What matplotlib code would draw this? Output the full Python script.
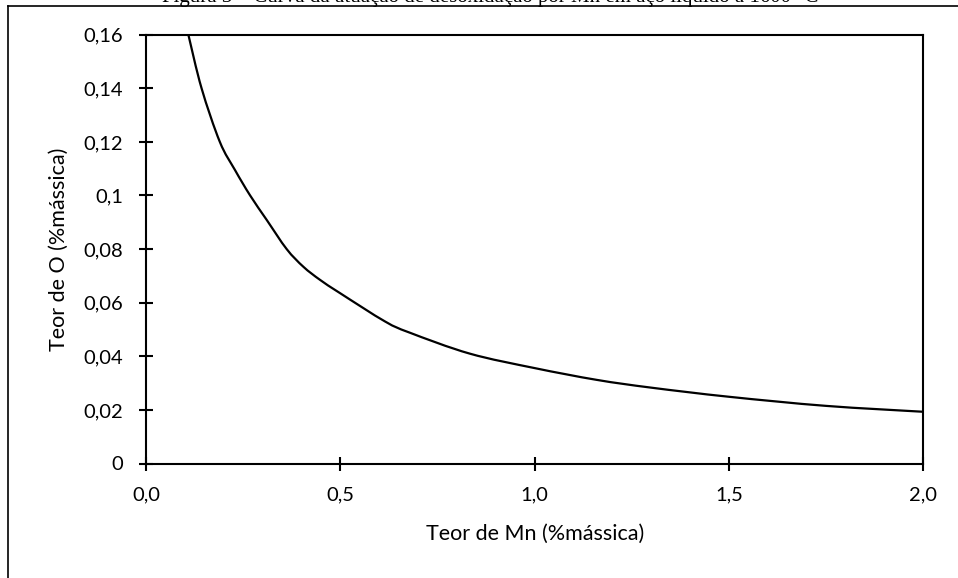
import matplotlib
matplotlib.use("Agg")
import matplotlib.pyplot as plt
from matplotlib.lines import Line2D
from matplotlib.path import Path
from matplotlib.patches import PathPatch

# Data
mn_content = [0.109, 0.143, 0.19, 0.229, 0.268, 0.311, 0.362, 0.405, 0.448, 0.5,
              0.615, 0.679, 0.833, 1.0, 1.16, 1.3, 1.5, 1.75, 2.0]
o_content = [0.16, 0.14, 0.12, 0.1095, 0.10, 0.0908, 0.08, 0.0734, 0.0685, 0.0635,
             0.0530, 0.0488, 0.0410, 0.0356, 0.0312, 0.0283, 0.0249, 0.0215, 0.0193]

x_ticks = [0.0, 0.5, 1.0, 1.5, 2.0]
x_tick_labels = ["0,0", "0,5", "1,0", "1,5", "2,0"]
y_ticks = [0, 0.02, 0.04, 0.06, 0.08, 0.10, 0.12, 0.14, 0.16]
y_tick_labels = ["0", "0,02", "0,04", "0,06", "0,08", "0,1", "0,12", "0,14", "0,16"]

x_label = "Teor de Mn (%mássica)"
y_label = "Teor de O (%mássica)"
caption = "Figura 3 – Curva da atuação de desoxidação por Mn em aço líquido a 1600 °C"

plt.rcParams['font.family'] = ['Lato', 'DejaVu Sans']

W, H = 958, 578
fig = plt.figure(figsize=(W / 100, H / 100), dpi=100)

ax = fig.add_axes([146 / W, 1 - 463.5 / H, (923.3 - 146) / W, (463.5 - 34.7) / H])

# Smoothed line (Catmull-Rom as cubic Bezier, like a spreadsheet "smoothed line")
pts = list(zip(mn_content, o_content))
verts = [pts[0]]
codes = [Path.MOVETO]
n = len(pts)
for i in range(n - 1):
    p0 = pts[i - 1] if i > 0 else pts[i]
    p1 = pts[i]
    p2 = pts[i + 1]
    p3 = pts[i + 2] if i + 2 < n else pts[i + 1]
    c1 = (p1[0] + (p2[0] - p0[0]) / 6, p1[1] + (p2[1] - p0[1]) / 6)
    c2 = (p2[0] - (p3[0] - p1[0]) / 6, p2[1] - (p3[1] - p1[1]) / 6)
    verts += [c1, c2, p2]
    codes += [Path.CURVE4] * 3
curve = PathPatch(Path(verts, codes), facecolor="none", edgecolor="black", lw=1.6,
                  transform=ax.transData, capstyle="butt", joinstyle="round")
ax.add_patch(curve)

ax.set_xlim(0, 2.0)
ax.set_ylim(0, 0.16)
ax.set_xticks(x_ticks)
ax.set_xticklabels(x_tick_labels)
ax.set_yticks(y_ticks)
ax.set_yticklabels(y_tick_labels)

for s in ax.spines.values():
    s.set_linewidth(1.5)
    s.set_color("black")

ax.tick_params(axis="both", direction="inout", length=10.5, width=1.5,
               labelsize=14.5, colors="black")
ax.tick_params(axis="x", pad=11)
ax.tick_params(axis="y", pad=11)

ax.set_xlabel(x_label, fontsize=15.5, labelpad=15)
ax.set_ylabel(y_label, fontsize=15.5, labelpad=11)

# Outer frame (left and top borders of the document box)
fig.add_artist(Line2D([7.5 / W, 7.5 / W], [0, 1 - 5.5 / H], transform=fig.transFigure,
                      color="black", lw=1.2))
fig.add_artist(Line2D([7.5 / W, 1.0], [1 - 5.5 / H, 1 - 5.5 / H], transform=fig.transFigure,
                      color="black", lw=1.2))

# Caption mostly cut off at the top, as in the reference
fig.text(490 / W, 1 - 2.0 / H, caption, ha="center", va="baseline",
         fontsize=15, family=["Liberation Serif", "DejaVu Serif"], color="black")

fig.savefig("out.png", dpi=100, facecolor="white")
